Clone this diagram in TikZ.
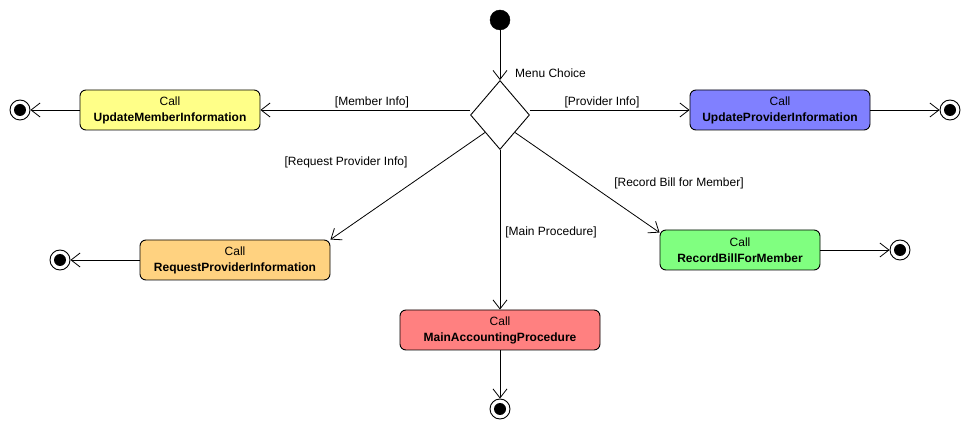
\documentclass[tikz,border=0pt]{standalone}
\usepackage{fontspec}
\setmainfont{Liberation Sans}
\usetikzlibrary{arrows.meta,shapes.geometric}
\definecolor{cyellow}{HTML}{FFFF88}
\definecolor{cpurple}{HTML}{8080FF}
\definecolor{corange}{HTML}{FFD280}
\definecolor{cred}{HTML}{FF8080}
\definecolor{cgreen}{HTML}{80FF80}
\tikzset{
  callbox/.style={draw=black, line width=0.9pt, rounded corners=6pt, inner sep=0pt,
    minimum height=40pt, align=center, font=\fontsize{12}{16}\selectfont},
  startdot/.style={circle, fill=black, draw=black, minimum size=20pt, inner sep=0pt},
  enddot/.style={circle, draw=black, line width=0.9pt, fill=white, minimum size=20pt, inner sep=0pt,
    path picture={\fill[black] (path picture bounding box.center) circle (6pt);}},
  flow/.style={draw=black, line width=0.8pt, -{Straight Barb[length=9pt,width=14pt,line width=0.8pt]}},
  lbl/.style={font=\fontsize{12}{14}\selectfont, inner sep=0pt},
  choice/.style={diamond, draw=black, line width=0.9pt, fill=white, minimum width=59pt, minimum height=69pt, inner sep=0pt, aspect=0.855}
}
\begin{document}
\begin{tikzpicture}[x=1pt,y=-1pt]
\useasboundingbox[fill=white] (0,0) rectangle (970,430);

\node[startdot] (s) at (500,20) {};
\node[choice] (d) at (500,115) {};

\node[callbox, fill=cyellow, minimum width=180pt] (um) at (170,110) {Call\\\textbf{UpdateMemberInformation}};
\node[callbox, fill=cpurple, minimum width=180pt] (up) at (780,110) {Call\\\textbf{UpdateProviderInformation}};
\node[callbox, fill=corange, minimum width=190pt] (rp) at (235,260) {Call\\\textbf{RequestProviderInformation}};
\node[callbox, fill=cred, minimum width=200pt] (ma) at (500,330) {Call\\\textbf{MainAccountingProcedure}};
\node[callbox, fill=cgreen, minimum width=160pt] (rb) at (740,250) {Call\\\textbf{RecordBillForMember}};

\node[enddot] (e1) at (20,110) {};
\node[enddot] (e2) at (950,110) {};
\node[enddot] (e3) at (60,260) {};
\node[enddot] (e4) at (500,409) {};
\node[enddot] (e5) at (900,250) {};

\draw[flow] (s) -- (d.north);
\draw[flow] ([yshift=5pt]d.west) -- (um.east);
\draw[flow] ([yshift=5pt]d.east) -- (up.west);
\draw[flow] (d.south west) -- (rp.north east);
\draw[flow] (d.south) -- (ma.north);
\draw[flow] (d.south east) -- ([yshift=-3pt]rb.north west);

\draw[flow] (um.west) -- (e1);
\draw[flow] (up.east) -- (e2);
\draw[flow] (rp.west) -- (e3);
\draw[flow] (ma.south) -- (e4);
\draw[flow] (rb.east) -- (e5);

\node[lbl, anchor=west] (l0) at (515,73) {Menu Choice};
\node[lbl] (l1) at (372,102) {[Member Info]};
\node[lbl] (l2) at (602,102) {[Provider Info]};
\node[lbl] (l3) at (346,162) {[Request Provider Info]};
\node[lbl] (l4) at (679,183) {[Record Bill for Member]};
\node[lbl] (l5) at (551,232) {[Main Procedure]};
\end{tikzpicture}
\end{document}
